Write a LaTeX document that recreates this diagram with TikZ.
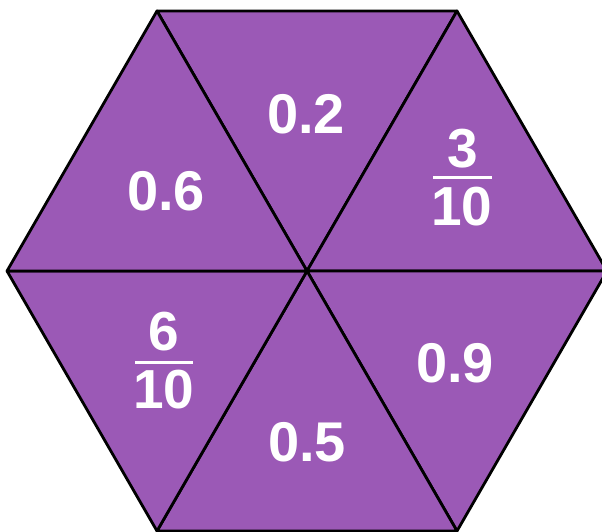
\documentclass[tikz,border=0pt]{standalone}
\usepackage{fontspec}
\setmainfont{Liberation Sans}
\definecolor{hexpurple}{RGB}{155,89,182}
\tikzset{
  tri/.style={fill=hexpurple, draw=black, line width=2.8pt, line join=round},
  dec/.style={text=white, font=\fontsize{56}{60}\selectfont\bfseries, anchor=base, inner sep=0pt},
  frac/.style={text=white, font=\fontsize{55}{60}\selectfont\bfseries, anchor=base, inner sep=0pt},
  bar/.style={draw=white, line width=3pt}
}
\begin{document}
\begin{tikzpicture}[x=1pt,y=-1pt]
\useasboundingbox (0,0) rectangle (602,532);
\coordinate (C) at (307,271);
\coordinate (V1) at (157,11);
\coordinate (V2) at (457,11);
\coordinate (V3) at (607,271);
\coordinate (V4) at (457,531);
\coordinate (V5) at (157,531);
\coordinate (V6) at (7,271);
\begin{scope}
\clip (0,0) rectangle (602,532);
\draw[tri] (C) -- (V1) -- (V2) -- cycle;
\draw[tri] (C) -- (V2) -- (V3) -- cycle;
\draw[tri] (C) -- (V3) -- (V4) -- cycle;
\draw[tri] (C) -- (V4) -- (V5) -- cycle;
\draw[tri] (C) -- (V5) -- (V6) -- cycle;
\draw[tri] (C) -- (V6) -- (V1) -- cycle;
\end{scope}
% decimals
\node[dec] (t1) at (306,133) {0.2};
\node[dec] (t2) at (166,210) {0.6};
\node[dec] (t3) at (455,382) {0.9};
\node[dec] (t4) at (307,461) {0.5};
% fraction 3/10
\node[frac] (n1) at (463,167) {3};
\node[frac] (d1) at (462,225) {10};
\coordinate (b1l) at (433,177);
\coordinate (b1r) at (492,177);
\draw[bar] (b1l) -- (b1r);
% fraction 6/10
\node[frac] (n2) at (164,350) {6};
\node[frac] (d2) at (164,408) {10};
\coordinate (b2l) at (135,362);
\coordinate (b2r) at (193,362);
\draw[bar] (b2l) -- (b2r);
\end{tikzpicture}
\end{document}
